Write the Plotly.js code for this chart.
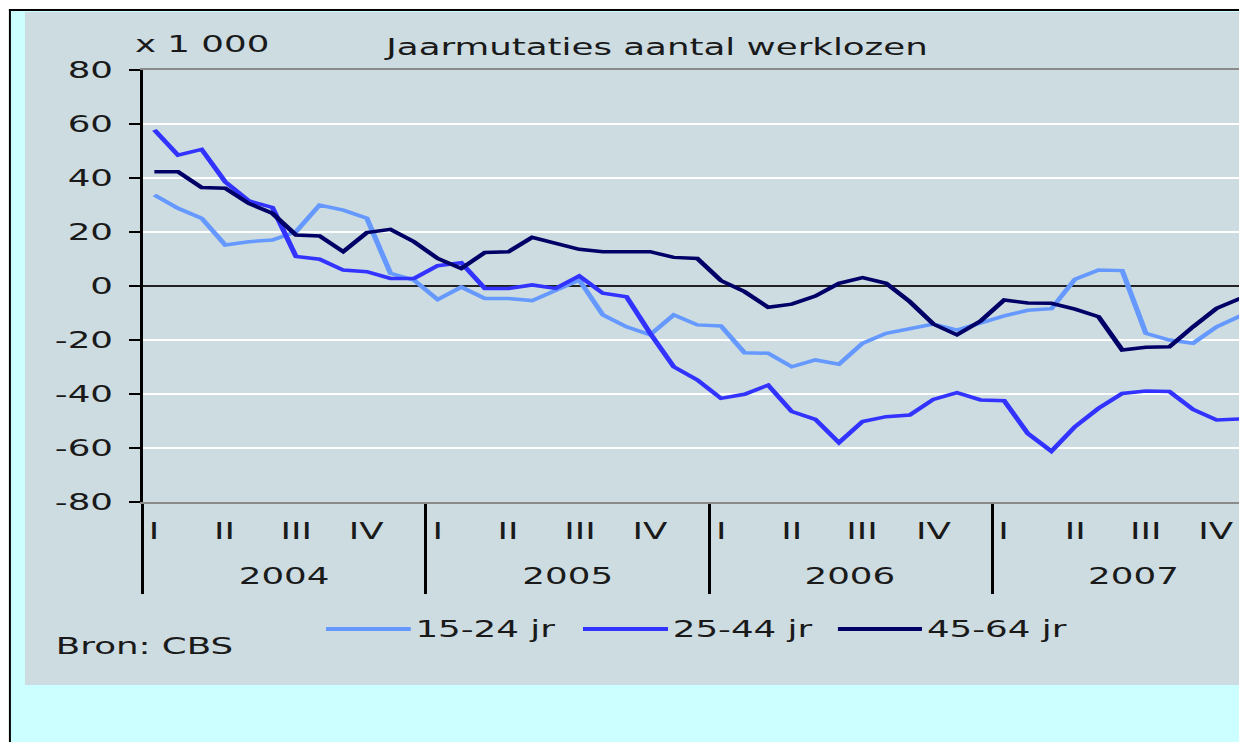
<!DOCTYPE html>
<html>
<head>
<meta charset="utf-8">
<script src="https://cdn.plot.ly/plotly-3.0.1.min.js"></script>
<style>
  html, body { margin: 0; padding: 0; background: #ffffff; overflow: hidden; width: 1239px; height: 742px; }
  #chart { width: 800px; height: 742px; transform: scaleX(1.55); transform-origin: 0 0; }
</style>
</head>
<body>
<div id="chart"></div>
<script>
// Month index 0 = January 2004
const months = Array.from({length: 47}, (_, i) => i);

const series1524 = [33.7, 28.8, 25.1, 15.2, 16.4, 17.0, 20.1, 30.0, 28.1, 25.1, 4.7, 2.2,
  -5.0, -0.4, -4.6, -4.6, -5.4, -1.7, 2.2, -10.7, -15.1, -18.1, -10.7, -14.4,
  -14.8, -24.7, -24.9, -29.9, -27.4, -29.0, -21.2, -17.5, -15.7, -14.1, -16.3, -13.8,
  -11.1, -9.0, -8.4, 2.5, 5.9, 5.7, -17.5, -20.0, -21.2, -15.1, -11.1];

const series2544 = [57.8, 48.5, 50.6, 38.6, 31.5, 29.1, 10.9, 9.9, 5.9, 5.3, 2.8, 2.8,
  7.5, 8.6, -0.9, -0.9, 0.4, -0.9, 3.7, -2.7, -4.0, -17.5, -29.9, -34.8,
  -41.6, -40.1, -36.7, -46.5, -49.4, -58.0, -50.2, -48.4, -47.8, -42.0, -39.5, -42.2,
  -42.5, -54.6, -61.2, -52.1, -45.3, -39.8, -38.9, -39.1, -45.7, -49.6, -49.2];

const series4564 = [42.3, 42.3, 36.5, 36.2, 30.6, 26.9, 18.9, 18.5, 12.7, 19.8, 21.0, 16.4,
  10.2, 6.5, 12.4, 12.7, 18.0, 15.8, 13.6, 12.7, 12.7, 12.7, 10.6, 10.2,
  2.0, -2.1, -7.9, -6.7, -3.7, 1.0, 3.1, 1.0, -5.8, -14.1, -18.1, -13.0,
  -5.2, -6.3, -6.4, -8.6, -11.4, -23.7, -22.7, -22.5, -15.1, -8.3, -4.6];

const seriesNames = ['15-24 jr', '25-44 jr', '45-64 jr'];
const seriesColors = ['#6699ff', '#3333ff', '#000066'];
const years = ['2004', '2005', '2006', '2007'];
const quarters = ['I', 'II', 'III', 'IV'];
const yTicks = [-80, -60, -40, -20, 0, 20, 40, 60, 80];
const yTickText = ['-80', '-60', '-40', '-20', '0', '20', '40', '60', '80'];

const FONT = 'DejaVu Sans, Verdana, sans-serif';
const TXT = '#1a1a1a';

const allSeries = [series1524, series2544, series4564];
const traces = allSeries.map((s, k) => ({
  type: 'scatter', mode: 'lines', x: months, y: s, name: seriesNames[k],
  line: {color: seriesColors[k], width: 3.5}, showlegend: false, hoverinfo: 'skip'
}));

const annotations = [];
years.forEach((yr, yi) => {
  quarters.forEach((q, qi) => {
    annotations.push({x: -0.5 + 12 * yi + 3 * qi + 0.5, xref: 'x', y: -0.067, yref: 'paper',
      text: q, showarrow: false, xanchor: 'center', yanchor: 'middle',
      font: {family: FONT, size: 23, color: TXT}});
  });
  annotations.push({x: 12 * yi + 5.5, xref: 'x', y: -0.171, yref: 'paper',
    text: yr, showarrow: false, xanchor: 'center', yanchor: 'middle',
    font: {family: FONT, size: 23, color: TXT}});
});
annotations.push({x: -0.0096, xref: 'paper', y: 1.060, yref: 'paper', text: 'x 1 000',
  showarrow: false, xanchor: 'left', yanchor: 'middle', font: {family: FONT, size: 23, color: TXT}});
annotations.push({x: -0.0826, xref: 'paper', y: -0.333, yref: 'paper', text: 'Bron: CBS',
  showarrow: false, xanchor: 'left', yanchor: 'middle', font: {family: FONT, size: 23, color: TXT}});

// manual legend
const legX = [[0.1671, 0.2444], [0.4013, 0.4788], [0.6336, 0.7102]];
const shapes = [
  {type: 'rect', xref: 'paper', yref: 'paper', x0: -0.2, x1: 1.2, y0: 1.1412, y1: 1.2, fillcolor: '#ffffff', line: {width: 0}, layer: 'below'},
  {type: 'rect', xref: 'paper', yref: 'paper', x0: -0.2, x1: -0.1218, y0: -0.7, y1: 1.2, fillcolor: '#ffffff', line: {width: 0}, layer: 'below'},
  {type: 'rect', xref: 'paper', yref: 'paper', x0: -0.1218, x1: 1.2, y0: 1.1366, y1: 1.1412, fillcolor: '#000000', line: {width: 0}, layer: 'below'},
  {type: 'rect', xref: 'paper', yref: 'paper', x0: -0.1218, x1: -0.1200, y0: -0.7, y1: 1.1412, fillcolor: '#000000', line: {width: 0}, layer: 'below'},
  {type: 'rect', xref: 'paper', yref: 'paper', x0: -0.1072, x1: 1.2, y0: -0.4236, y1: 1.1343, fillcolor: '#cddce1', line: {width: 0}, layer: 'below'}
];
legX.forEach((lx, k) => {
  shapes.push({type: 'line', xref: 'paper', yref: 'paper', x0: lx[0], x1: lx[1], y0: -0.294, y1: -0.294,
    line: {color: seriesColors[k], width: 4}});
  annotations.push({x: lx[1] + 0.0012, xref: 'paper', y: -0.294, yref: 'paper', text: seriesNames[k],
    showarrow: false, xanchor: 'left', yanchor: 'middle', font: {family: FONT, size: 23, color: TXT}});
});

const layout = {
  width: 800, height: 742,
  margin: {l: 92, r: 0, t: 70, b: 240, pad: 0},
  paper_bgcolor: '#ccffff',
  plot_bgcolor: '#cddce1',
  showlegend: false,
  title: {text: 'Jaarmutaties aantal werklozen', x: 0.4688, xref: 'paper', xanchor: 'center',
    y: 1 - 47 / 742, yref: 'container', yanchor: 'middle', font: {family: FONT, size: 23, color: TXT}},
  xaxis: {
    range: [-0.5, 45.99], tickmode: 'array', tickvals: [-0.5, 11.5, 23.5, 35.5],
    ticks: 'outside', ticklen: 90, tickwidth: 2, tickcolor: '#000000', showticklabels: false,
    showgrid: false, zeroline: false, showline: true, linecolor: '#8a8a8a', linewidth: 2, mirror: true
  },
  yaxis: {
    range: [-80, 80], tickmode: 'array', tickvals: yTicks, ticktext: yTickText, ticks: 'outside', ticklen: 6.5, tickwidth: 2,
    tickcolor: '#000000', showline: true, linecolor: '#000000', linewidth: 2,
    gridcolor: '#ffffff', gridwidth: 2, zeroline: true, zerolinecolor: '#222222', zerolinewidth: 2,
    tickfont: {family: FONT, size: 23, color: TXT}, ticklabelstandoff: 6
  },
  shapes: shapes,
  annotations: annotations
};

Plotly.newPlot('chart', traces, layout, {staticPlot: true, displayModeBar: false});
</script>
</body>
</html>
